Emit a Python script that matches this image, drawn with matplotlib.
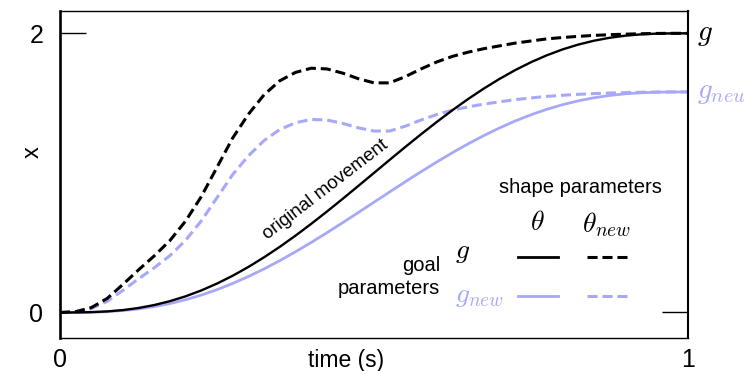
import matplotlib
matplotlib.use('Agg')
import matplotlib.pyplot as plt

# time axis (s), read every 0.025 s
t = [i * 0.025 for i in range(41)]

# original movement, goal g, shape theta
x_orig = [0.0, 0.0003, 0.0023, 0.0075, 0.0171, 0.0321, 0.0532, 0.081, 0.1158, 0.1578,
          0.207, 0.2632, 0.3262, 0.3954, 0.4703, 0.5504, 0.6349, 0.723, 0.8137, 0.9064,
          1.0, 1.0936, 1.1863, 1.277, 1.3651, 1.4496, 1.5297, 1.6046, 1.6738, 1.7368,
          1.793, 1.8422, 1.8842, 1.919, 1.9468, 1.9679, 1.9829, 1.9925, 1.9977, 1.9997, 2.0]

# new goal g_new, shape theta
x_gnew = [0.0, 0.0002, 0.0018, 0.0059, 0.0135, 0.0254, 0.042, 0.064, 0.0915, 0.1247,
          0.1635, 0.2079, 0.2577, 0.3124, 0.3715, 0.4348, 0.5016, 0.5712, 0.6428, 0.7161,
          0.79, 0.8639, 0.9372, 1.0088, 1.0784, 1.1452, 1.2085, 1.2676, 1.3223, 1.3721,
          1.4165, 1.4553, 1.4885, 1.516, 1.538, 1.5546, 1.5665, 1.5741, 1.5782, 1.5798, 1.58]

# goal g, new shape theta_new
x_thnew = [0.0, 0.006, 0.035, 0.10, 0.20, 0.305, 0.405, 0.515, 0.655, 0.83,
           1.04, 1.25, 1.42, 1.56, 1.66, 1.72, 1.75, 1.745, 1.715, 1.675,
           1.645, 1.645, 1.69, 1.745, 1.795, 1.835, 1.865, 1.89, 1.91, 1.93,
           1.945, 1.96, 1.97, 1.978, 1.985, 1.99, 1.994, 1.997, 1.999, 2.0, 2.0]

# new goal g_new, new shape theta_new
x_both = [0.0, 0.005, 0.028, 0.079, 0.158, 0.241, 0.32, 0.407, 0.517, 0.656,
          0.822, 0.988, 1.122, 1.232, 1.311, 1.359, 1.383, 1.379, 1.355, 1.323,
          1.300, 1.300, 1.335, 1.379, 1.418, 1.450, 1.473, 1.493, 1.509, 1.525,
          1.537, 1.548, 1.556, 1.563, 1.568, 1.572, 1.575, 1.578, 1.579, 1.58, 1.58]

g = 2.0
g_new = 1.58

BLUE = '#a8a8fa'
DASH = (3.3, 1.6)

plt.rcParams['font.family'] = ['Liberation Sans', 'DejaVu Sans']
plt.rcParams['mathtext.fontset'] = 'cm'


def main():
    fig = plt.figure(figsize=(7.45, 3.71), dpi=100)
    ax = fig.add_axes([0.0805, 0.0889, 0.843, 0.8815])

    ax.plot(t, x_gnew, color=BLUE, lw=2.0, solid_capstyle='butt')
    ax.plot(t, x_both, color=BLUE, lw=2.2, dashes=DASH)
    ax.plot(t, x_orig, color='black', lw=1.7)
    ax.plot(t, x_thnew, color='black', lw=2.2, dashes=DASH)

    ax.set_xlim(0, 1)
    ax.set_ylim(-0.183, 2.16)

    ax.set_xticks([0, 1])
    ax.set_yticks([0, 2])
    ax.tick_params(axis='x', length=0, pad=7, labelsize=18)
    ax.tick_params(axis='y', direction='in', length=19, width=1.0, pad=12,
                   labelsize=18, right=True)

    ax.spines['left'].set_linewidth(1.9)
    ax.spines['right'].set_linewidth(1.5)
    ax.spines['top'].set_linewidth(1.0)
    ax.spines['bottom'].set_linewidth(1.0)

    ax.set_xlabel('time (s)', fontsize=16.5)
    ax.xaxis.set_label_coords(0.455, -0.033)
    ax.set_ylabel('x', fontsize=17)
    ax.yaxis.set_label_coords(-0.026, 0.57)

    # goal labels on the right
    ax.text(1.015, g - 0.045, r'$g$', fontsize=21, va='baseline', ha='left',
            transform=ax.get_yaxis_transform(), clip_on=False)
    ax.text(1.015, g_new - 0.045, r'$g_{neu}$', fontsize=21, va='baseline', ha='left',
            color=BLUE, transform=ax.get_yaxis_transform(), clip_on=False)

    ax.text(0.431, 0.83, 'original movement', fontsize=13.5, rotation=37.5,
            rotation_mode='anchor', ha='center', va='bottom')

    # table-like legend
    tr = ax.transAxes
    ax.text(0.828, 0.459, 'shape parameters', fontsize=14.5, ha='center', va='center', transform=tr)
    ax.text(0.760, 0.352, r'$\theta$', fontsize=20, ha='center', va='center', transform=tr)
    ax.text(0.871, 0.346, r'$\theta_{new}$', fontsize=20, ha='center', va='center', transform=tr)
    ax.text(0.605, 0.223, 'goal', fontsize=14.5, ha='right', va='center', transform=tr)
    ax.text(0.605, 0.152, 'parameters', fontsize=14.5, ha='right', va='center', transform=tr)
    ax.text(0.629, 0.262, r'$g$', fontsize=20, ha='left', va='center', transform=tr)
    ax.text(0.629, 0.128, r'$g_{new}$', fontsize=20, ha='left', va='center', color=BLUE, transform=tr)

    ax.plot([0.729, 0.793], [0.248, 0.248], color='black', lw=2.0, transform=tr)
    ax.plot([0.839, 0.903], [0.248, 0.248], color='black', lw=2.2, dashes=DASH, transform=tr)
    ax.plot([0.729, 0.793], [0.128, 0.128], color=BLUE, lw=2.0, transform=tr)
    ax.plot([0.839, 0.903], [0.128, 0.128], color=BLUE, lw=2.2, dashes=DASH, transform=tr)

    fig.savefig('out.png', dpi=100)
    plt.close(fig)


if __name__ == '__main__':
    main()
